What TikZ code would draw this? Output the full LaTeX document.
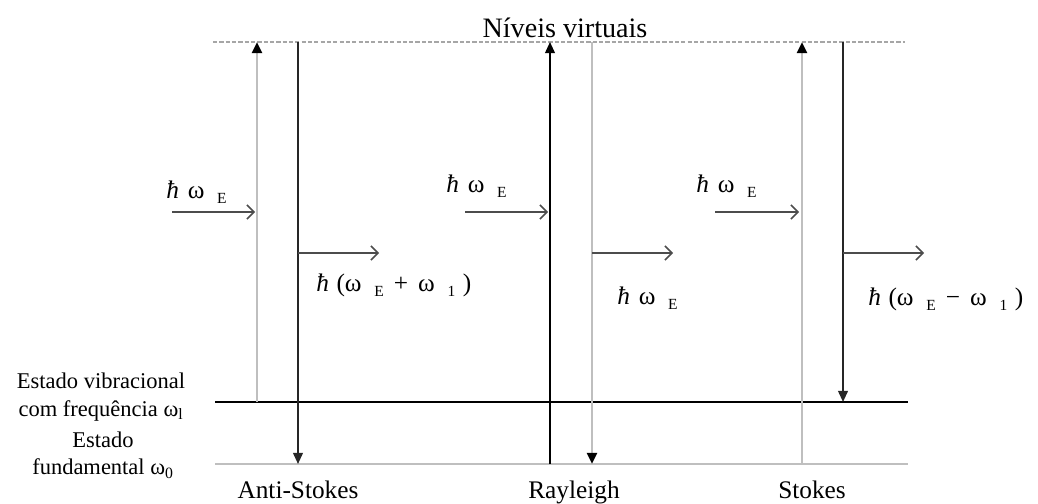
\documentclass[tikz,border=0pt]{standalone}
\usepackage{fontspec}
\setmainfont{Liberation Serif}
\usetikzlibrary{arrows.meta, positioning}
\newcommand{\lowidx}[1]{\hspace{0.5em}\raisebox{-0.45ex}{\fontsize{11}{12}\selectfont #1}}
\newcommand{\hw}{\textit{ħ}\hspace{0.35em}ω}

\begin{document}
\begin{tikzpicture}[x=0.025cm, y=-0.025cm,
  vib/.style={line width=1.2pt, black},
  fund/.style={line width=1.6pt, gray!50},
  virt/.style={gray!70, line width=0.8pt, dash pattern=on 3pt off 1.5pt},
  upblk/.style={-{Triangle[length=8pt,width=7pt]}, line width=1.3pt, black},
  upgry/.style={-{Triangle[length=8pt,width=7pt,color=black]}, line width=2pt, gray!50},
  dnblk/.style={-{Triangle[length=8pt,width=7pt]}, line width=1.3pt, black!85},
  dngry/.style={-{Triangle[length=8pt,width=7pt,color=black]}, line width=2pt, gray!50},
  photon/.style={-{Straight Barb[length=5pt,width=10pt]}, line width=1.1pt, black!70},
  lbl/.style={font=\fontsize{18}{21}\selectfont, inner sep=0pt},
  side/.style={font=\fontsize{16}{19.5}\selectfont, inner sep=0pt, align=center}
]
\useasboundingbox (0,0) rectangle (1038,504);

% levels
\coordinate (v0) at (213,42);  \coordinate (v1) at (905,42);
\coordinate (e0) at (215,402); \coordinate (e1) at (908,402);
\coordinate (g0) at (215,464); \coordinate (g1) at (908,464);
\draw[virt] (v0) -- (v1);
\draw[vib] (e0) -- (e1);
\draw[fund] (g0) -- (g1);
\node[lbl, font=\fontsize{20}{22}\selectfont] (virtTxt) at (565,28) {Níveis virtuais};
\node[side] (vibTxt) at (101,397) {Estado vibracional\\com frequência ω\textsubscript{l}};
\node[side] (fundTxt) at (103,455) {Estado\\fundamental ω\textsubscript{0}};

% Anti-Stokes
\coordinate (asUpA) at (257,402); \coordinate (asUpB) at (257,42);
\coordinate (asDnA) at (298,42);  \coordinate (asDnB) at (298,464);
\draw[upgry] (asUpA) -- (asUpB);
\draw[dnblk] (asDnA) -- (asDnB);
\coordinate (asInA) at (172,212);  \coordinate (asInB) at (255,212);
\coordinate (asOutA) at (298,253); \coordinate (asOutB) at (379,253);
\draw[photon] (asInA) -- (asInB);
\draw[photon] (asOutA) -- (asOutB);
\node[lbl, anchor=west] (asIn) at (166,192) {\hw\lowidx{E}};
\node[lbl, anchor=west] (asOut) at (316,285) {\textit{ħ}\hspace{0.3em}(ω\lowidx{E}\hspace{0.4em}+\hspace{0.4em}ω\lowidx{1}\hspace{0.3em})};
\node[lbl, anchor=base] (asName) at (298,498) {Anti-Stokes};

% Rayleigh
\coordinate (raUpA) at (550,464); \coordinate (raUpB) at (550,42);
\coordinate (raDnA) at (592,42);  \coordinate (raDnB) at (592,464);
\draw[upblk] (raUpA) -- (raUpB);
\draw[dngry] (raDnA) -- (raDnB);
\coordinate (raInA) at (465,212);  \coordinate (raInB) at (548,212);
\coordinate (raOutA) at (592,253); \coordinate (raOutB) at (673,253);
\draw[photon] (raInA) -- (raInB);
\draw[photon] (raOutA) -- (raOutB);
\node[lbl, anchor=west] (raIn) at (446,186) {\hw\lowidx{E}};
\node[lbl, anchor=west] (raOut) at (617,298) {\hw\lowidx{E}};
\node[lbl, anchor=base] (raName) at (574,498) {Rayleigh};

% Stokes
\coordinate (stUpA) at (802,464); \coordinate (stUpB) at (802,42);
\coordinate (stDnA) at (843,42);  \coordinate (stDnB) at (843,402);
\draw[upgry] (stUpA) -- (stUpB);
\draw[dnblk] (stDnA) -- (stDnB);
\coordinate (stInA) at (715,212);  \coordinate (stInB) at (799,212);
\coordinate (stOutA) at (843,253); \coordinate (stOutB) at (924,253);
\draw[photon] (stInA) -- (stInB);
\draw[photon] (stOutA) -- (stOutB);
\node[lbl, anchor=west] (stIn) at (696,186) {\hw\lowidx{E}};
\node[lbl, anchor=west] (stOut) at (868,299) {\textit{ħ}\hspace{0.3em}(ω\lowidx{E}\hspace{0.4em}−\hspace{0.4em}ω\lowidx{1}\hspace{0.3em})};
\node[lbl, anchor=base] (stName) at (812,498) {Stokes};
\end{tikzpicture}
\end{document}
